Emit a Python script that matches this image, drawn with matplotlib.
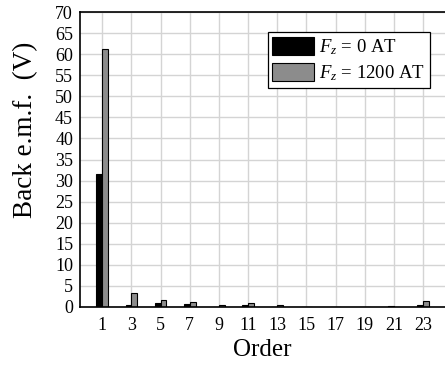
import matplotlib
matplotlib.use('Agg')
import matplotlib.pyplot as plt
import numpy as np

plt.rcParams['font.family'] = ['Liberation Serif', 'DejaVu Serif']
plt.rcParams['mathtext.fontset'] = 'custom'
plt.rcParams['mathtext.rm'] = 'Liberation Serif'
plt.rcParams['mathtext.it'] = 'Liberation Serif:italic'

orders = ['1', '3', '5', '7', '9', '11', '13', '15', '17', '19', '21', '23']
emf_0at = [31.5, 0.35, 1.0, 0.6, 0.1, 0.35, 0.1, 0.1, 0.05, 0.05, 0.3, 0.55]
emf_1200at = [61.2, 3.2, 1.65, 1.2, 0.55, 0.95, 0.55, 0.1, 0.05, 0.05, 0.1, 1.35]
labels = [r'$F_z$ = 0 AT', r'$F_z$ = 1200 AT']

fig = plt.figure(figsize=(4.45, 3.65), dpi=100)
ax = fig.add_axes([0.1798, 0.159, 0.82, 0.808])

x = np.arange(len(orders))
w = 0.2
ax.bar(x - w/2, emf_0at, w, color='black', edgecolor='black', linewidth=0.8, label=labels[0], zorder=3)
ax.bar(x + w/2, emf_1200at, w, color='#8c8c8c', edgecolor='black', linewidth=0.8, label=labels[1], zorder=3)

ax.set_xlim(-0.76, 11.75)
ax.set_ylim(0, 70)
ax.set_yticks(np.arange(0, 71, 5))
ax.set_xticks(x)
ax.set_xticklabels(orders)
ax.tick_params(length=0, labelsize=13)
ax.tick_params(axis='x', pad=7)
ax.tick_params(axis='y', pad=5)
ax.grid(True, color='#d4d4d4', linewidth=1, zorder=0)
ax.set_axisbelow(True)

ax.spines['right'].set_visible(False)
for s in ['left', 'bottom', 'top']:
    ax.spines[s].set_linewidth(1.2)
    ax.spines[s].set_zorder(5)

ax.set_xlabel('Order', fontsize=18, labelpad=4)
ax.set_ylabel('Back e.m.f.  (V)', fontsize=19.5)
ax.yaxis.set_label_coords(-0.115, 0.6)

leg = ax.legend(loc='upper right', bbox_to_anchor=(430/445, 1 - 32/365),
                bbox_transform=fig.transFigure, borderaxespad=0,
                fontsize=13.5, fancybox=False, framealpha=1, edgecolor='black',
                handlelength=2.2, handleheight=1.15, handletextpad=0.3,
                borderpad=0.25, labelspacing=0.3)
leg.get_frame().set_linewidth(0.9)

fig.savefig('out.png', dpi=100)
